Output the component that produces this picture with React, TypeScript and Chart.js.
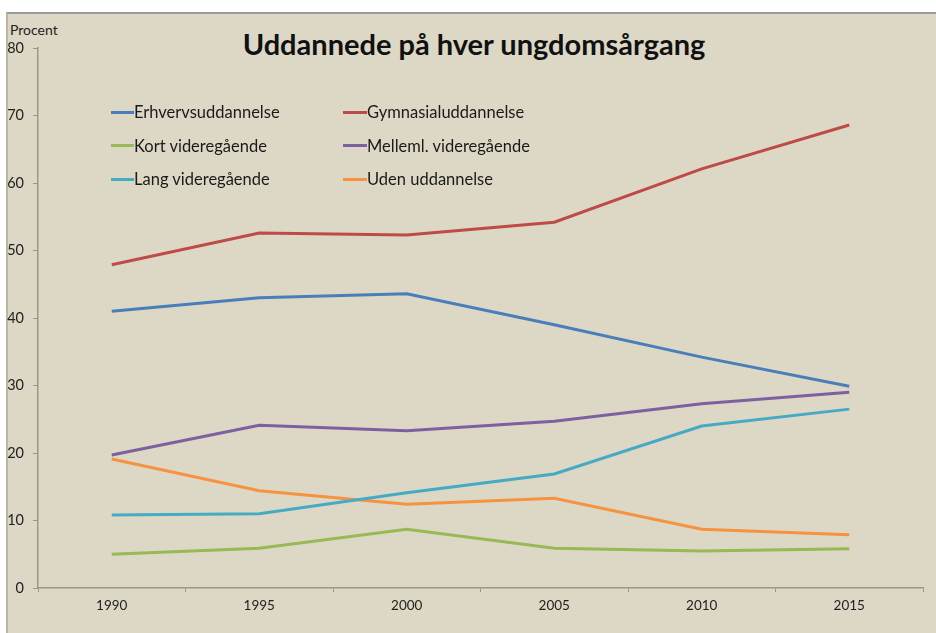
import React, { useEffect, useRef } from "react";
import { Chart, registerables } from "chart.js";
Chart.register(...registerables);

const years = ["1990", "1995", "2000", "2005", "2010", "2015"];
const erhverv = [41.0, 43.0, 43.6, 39.0, 34.2, 29.9];
const gymnasial = [47.9, 52.6, 52.3, 54.2, 62.1, 68.6];
const kort = [5.0, 5.9, 8.7, 5.9, 5.5, 5.8];
const melleml = [19.7, 24.1, 23.3, 24.7, 27.3, 29.0];
const lang = [10.8, 11.0, 14.1, 16.9, 24.0, 26.5];
const uden = [19.1, 14.4, 12.4, 13.3, 8.7, 7.9];

const seriesNames = [
  "Erhvervsuddannelse",
  "Gymnasialuddannelse",
  "Kort videregående",
  "Melleml. videregående",
  "Lang videregående",
  "Uden uddannelse",
];
const seriesData = [erhverv, gymnasial, kort, melleml, lang, uden];
const seriesColors = ["#4a7ebb", "#be4b48", "#98b954", "#7d60a0", "#46aac5", "#f69240"];

const title = "Uddannede på hver ungdomsårgang";
const yAxisLabel = "Procent";
const yMin = 0;
const yMax = 80;
const yStep = 10;

const FONT = "Lato, 'Open Sans', sans-serif";

export default function App() {
  const ref = useRef<HTMLCanvasElement | null>(null);

  useEffect(() => {
    if (!ref.current) return;
    const chart = new Chart(ref.current, {
      type: "line",
      data: {
        labels: years,
        datasets: seriesNames.map((name, i) => ({
          label: name,
          data: seriesData[i],
          borderColor: seriesColors[i],
          backgroundColor: seriesColors[i],
          borderWidth: 3,
          pointRadius: 0,
          tension: 0,
          fill: false,
        })),
      },
      options: {
        animation: false,
        responsive: false,
        layout: { padding: { left: 0, right: 13, top: 48, bottom: 0 } },
        plugins: {
          legend: { display: false },
          tooltip: { enabled: false },
          title: { display: false },
        },
        scales: {
          x: {
            type: "category",
            offset: true,
            grid: {
              offset: true,
              drawOnChartArea: false,
              drawTicks: true,
              tickLength: 4,
              color: "#9a978a",
            },
            border: { display: true, color: "#9a978a", width: 1.5 },
            ticks: {
              font: { family: FONT, size: 13.5 },
              color: "#222",
              padding: 6,
              maxRotation: 0,
            },
            afterFit: (scale: any) => {
              scale.height = 45;
            },
          },
          y: {
            min: yMin,
            max: yMax,
            grid: {
              drawOnChartArea: false,
              drawTicks: true,
              tickLength: 5,
              color: "#9a978a",
            },
            border: { display: true, color: "#9a978a", width: 1.5 },
            ticks: {
              stepSize: yStep,
              font: { family: FONT, size: 14.5 },
              color: "#222",
              padding: 9,
            },
            afterFit: (scale: any) => {
              scale.width = 38;
            },
          },
        },
      },
    });
    return () => chart.destroy();
  }, []);

  const legendRows = [0, 1, 2];
  const legendCols = [
    { lineX: 111, textX: 134 },
    { lineX: 343, textX: 367 },
  ];
  const rowY = [112, 145.5, 179];

  return (
    <div
      style={{
        position: "fixed",
        left: 0,
        top: 0,
        width: 936,
        height: 633,
        background: "#ffffff",
        overflow: "hidden",
        fontFamily: FONT,
      }}
    >
      <div
        style={{
          position: "absolute",
          left: 6,
          top: 12,
          right: 0,
          bottom: 0,
          background: "#ddd8c5",
          borderTop: "2px solid #9b9a94",
          borderLeft: "2px solid #b9b6a8",
        }}
      />
      <div
        style={{
          position: "absolute",
          left: 10,
          top: 21,
          fontSize: 14,
          color: "#222",
          lineHeight: "18px",
        }}
      >
        {yAxisLabel}
      </div>
      <div
        style={{
          position: "absolute",
          left: 0,
          width: 948,
          top: 26,
          textAlign: "center",
          fontSize: 29,
          fontWeight: 700,
          color: "#111",
          lineHeight: "36px",
        }}
      >
        {title}
      </div>
      <canvas
        ref={ref}
        width={936}
        height={633}
        style={{ position: "absolute", left: 0, top: 0, display: "block" }}
      />
      {legendRows.map((r) =>
        legendCols.map((c, ci) => {
          const idx = r * 2 + ci;
          return (
            <div key={idx}>
              <div
                style={{
                  position: "absolute",
                  left: c.lineX,
                  top: rowY[r] - 1.5,
                  width: c.textX - c.lineX,
                  height: 3,
                  background: seriesColors[idx],
                }}
              />
              <div
                style={{
                  position: "absolute",
                  left: c.textX,
                  top: rowY[r] - 11,
                  fontSize: 16.5,
                  lineHeight: "22px",
                  color: "#1a1a1a",
                  whiteSpace: "nowrap",
                }}
              >
                {seriesNames[idx]}
              </div>
            </div>
          );
        })
      )}
    </div>
  );
}
